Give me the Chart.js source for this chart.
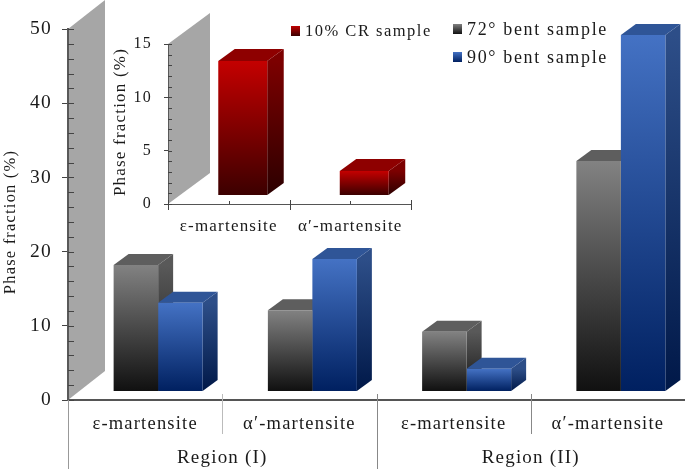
<!DOCTYPE html>
<html>
<head>
<meta charset="utf-8">
<style>
  body { margin: 0; background: #fff; width: 685px; height: 469px; overflow: hidden; position: relative; font-family: "Liberation Serif", serif; color: #1a1a1a; }
  canvas { position: absolute; }
  #mainChart { left: 0; top: 0; }
  #insetChart { left: 100px; top: 0; }
  .key { position: absolute; white-space: nowrap; line-height: 20px; }
  .key i { position: absolute; width: 9px; height: 10px; top: 5px; left: 0; }
  .key span { position: absolute; left: 14px; top: 0; }
</style>
</head>
<body>
<canvas id="mainChart" width="685" height="469"></canvas>
<canvas id="insetChart" width="330" height="240"></canvas>
<div class="key" style="left:291px;top:21px;font-size:16.5px;letter-spacing:1.5px"><i style="background:linear-gradient(#c00000,#3a0000)"></i><span id="keyCr"></span></div>
<div class="key" style="left:453px;top:19px;font-size:18px;letter-spacing:1.65px"><i style="background:linear-gradient(#808080,#111)"></i><span id="key72"></span></div>
<div class="key" style="left:453px;top:47px;font-size:18px;letter-spacing:1.65px"><i style="background:linear-gradient(#4472c4,#002060)"></i><span id="key90"></span></div>
<script src="https://cdn.jsdelivr.net/npm/chart.js@4"></script>
<script>
//Data
const categories = ["ε-martensite", "α′-martensite", "ε-martensite", "α′-martensite"];
const regions = ["Region (I)", "Region (II)"];
const bent72 = [18.2, 12.1, 9.2, 32.2];
const bent90 = [13.1, 19, 4.2, 49.2];
const mainFloor = 1.2;
const mainTicks = [0, 10, 20, 30, 40, 50];

const insetCategories = ["ε-martensite", "α′-martensite"];
const cr10 = [13.4, 3.1];
const insetFloor = 0.85;
const insetTicks = [0, 5, 10, 15];

const yTitle = "Phase fraction (%)";
const label72 = "72° bent sample";
const label90 = "90° bent sample";
const labelCr = "10% CR sample";

document.getElementById("key72").textContent = label72;
document.getElementById("key90").textContent = label90;
document.getElementById("keyCr").textContent = labelCr;

const grey = {front: ["#828282", "#101010"], side: ["#595959", "#151515"], top: "#5e5e5e"};
const blue = {front: ["#4472c4", "#002060"], side: ["#2d4e88", "#001848"], top: "#2f5597"};
const red = {front: ["#c40000", "#3c0000"], side: ["#7c0000", "#2c0000"], top: "#8e0000"};

function barGradient(ctx, t, b, colors) {
    const g = ctx.createLinearGradient(0, t, 0, b);
    g.addColorStop(0, colors[0]);
    g.addColorStop(1, colors[1]);
    return g;
}

function poly(ctx, pts, fill) {
    ctx.beginPath();
    ctx.moveTo(pts[0][0], pts[0][1]);
    for (let i = 1; i < pts.length; i++) ctx.lineTo(pts[i][0], pts[i][1]);
    ctx.closePath();
    ctx.fillStyle = fill;
    ctx.fill();
}

//Fake 3D: back wall, minor ticks, bar sides and tops, all placed from the chart's own scales
const depthPlugin = {
    id: "depth",
    beforeLayout(chart, args, o) {
        chart.ctx.letterSpacing = o.spacing;
    },
    beforeDraw(chart, args, o) {
        const ctx = chart.ctx;
        ctx.letterSpacing = o.spacing;
        const {left, top, bottom} = chart.chartArea;
        poly(ctx, [[left, bottom], [left, top], [left + o.wallX, top + o.wallY], [left + o.wallX, bottom + o.wallY]], "#a6a6a6");
    },
    beforeDatasetsDraw(chart, args, o) {
        const ctx = chart.ctx;
        ctx.save();
        ctx.translate(o.shift, 0);
        chart.data.datasets.forEach((ds, d) => {
            chart.getDatasetMeta(d).data.forEach(bar => {
                const l = bar.x - bar.width / 2;
                const r = bar.x + bar.width / 2;
                const t = bar.y;
                const b = bar.base;
                bar.options = Object.assign({}, bar.options, {backgroundColor: barGradient(ctx, t, b, ds.faces.front)});
                poly(ctx, [[r, t], [r + o.dx, t + o.dy], [r + o.dx, b + o.dy], [r, b]], barGradient(ctx, t, b, ds.faces.side));
                poly(ctx, [[l, t], [l + o.dx, t + o.dy], [r + o.dx, t + o.dy], [r, t]], ds.faces.top);
            });
        });
    },
    afterDatasetsDraw(chart) {
        chart.ctx.restore();
    },
    afterDraw(chart, args, o) {
        const ctx = chart.ctx;
        const y = chart.scales.y;
        const x = chart.scales.x;
        ctx.save();
        ctx.letterSpacing = o.spacing;

        //inward ticks
        ctx.strokeStyle = "#444";
        ctx.lineWidth = 1;
        for (let v = y.min; v <= y.max; v += o.minorStep) {
            const p = Math.round(y.getPixelForValue(v)) + 0.5;
            ctx.beginPath();
            ctx.moveTo(x.left, p);
            ctx.lineTo(x.left + o.minorLen, p);
            ctx.stroke();
        }

        //band dividers under the axis
        const band = x.width / chart.data.labels.length;
        o.dividers.forEach(div => {
            const p = Math.round(x.left + div.at * band) + 0.5;
            ctx.strokeStyle = div.color;
            ctx.beginPath();
            ctx.moveTo(p, y.bottom + div.from);
            ctx.lineTo(p, y.bottom + div.to);
            ctx.stroke();
        });
        (o.centerTicks || []).forEach(at => {
            const p = Math.round(x.left + at * band) + 0.5;
            ctx.strokeStyle = "#444";
            ctx.beginPath();
            ctx.moveTo(p, y.bottom - 3);
            ctx.lineTo(p, y.bottom);
            ctx.stroke();
        });

        //y title
        ctx.fillStyle = "#1a1a1a";
        ctx.font = o.titleFont;
        ctx.textAlign = "center";
        ctx.textBaseline = "middle";
        ctx.save();
        ctx.translate(o.titleX, o.titleY);
        ctx.rotate(-Math.PI / 2);
        ctx.fillText(yTitle, 0, 0);
        ctx.restore();

        //region labels
        ctx.font = o.regionFont || ctx.font;
        (o.regions || []).forEach((r, i) => {
            ctx.fillText(r, x.left + (i * 2 + 1) * band, o.regionY);
        });
        ctx.restore();
    }
};

function baseOptions(ticks, max, yWidth, xHeight, top, right, tickSize, labelSize, catPct, padX, padY, depth, tickLen, axisWidth) {
    return {
        responsive: false,
        animation: false,
        layout: {padding: {top: top, right: right, left: 0, bottom: 0}},
        plugins: {legend: {display: false}, tooltip: {enabled: false}, depth: depth},
        datasets: {bar: {categoryPercentage: catPct, barPercentage: 1, clip: false}},
        scales: {
            x: {
                grid: {display: false, drawTicks: false},
                border: {display: true, color: "#555", width: axisWidth},
                afterFit(scale) { scale.height = xHeight; },
                ticks: {
                    font: {family: "Liberation Serif", size: labelSize},
                    color: "#1a1a1a",
                    padding: padX,
                    maxRotation: 0,
                    autoSkip: false
                }
            },
            y: {
                min: 0,
                max: max,
                afterFit(scale) { scale.width = yWidth; },
                afterBuildTicks(scale) { scale.ticks = ticks.map(v => ({value: v})); },
                grid: {drawOnChartArea: false, tickLength: tickLen, tickColor: "#444"},
                border: {display: true, color: "#595959", width: axisWidth},
                ticks: {
                    font: {family: "Liberation Serif", size: tickSize},
                    color: "#1a1a1a",
                    padding: padY
                }
            }
        }
    };
}

new Chart(document.getElementById("mainChart"), {
    type: "bar",
    plugins: [depthPlugin],
    data: {
        labels: categories,
        datasets: [
            {label: label72, faces: grey, data: bent72.map(v => [mainFloor, v]), backgroundColor: grey.front[0]},
            {label: label90, faces: blue, data: bent90.map(v => [mainFloor, v]), backgroundColor: blue.front[0]}
        ]
    },
    options: baseOptions(mainTicks, 50, 68, 69, 29, 0, 19.5, 18.5, 0.577, 13, 10, {
        spacing: "1.2px", wallX: 37, wallY: -29, shift: 13, dx: 15, dy: -11,
        minorStep: 2, minorLen: 6,
        dividers: [
            {at: 0, from: 0, to: 69, color: "#999"},
            {at: 1, from: -6, to: 34, color: "#bbb"},
            {at: 2, from: -6, to: 69, color: "#888"},
            {at: 3, from: -6, to: 34, color: "#888"}
        ],
        titleFont: "16.5px 'Liberation Serif'", titleX: 11, titleY: 222,
        regions: regions, regionFont: "19px 'Liberation Serif'", regionY: 458
    }, 6, 2)
});

new Chart(document.getElementById("insetChart"), {
    type: "bar",
    plugins: [depthPlugin],
    data: {
        labels: insetCategories,
        datasets: [
            {label: labelCr, faces: red, data: cr10.map(v => [insetFloor, v]), backgroundColor: red.front[0]}
        ]
    },
    options: baseOptions(insetTicks, 15, 68, 36, 44, 19, 16, 17, 0.403, 12, 12, {
        spacing: "1.2px", wallX: 42, wallY: -31, shift: 14, dx: 16.5, dy: -12,
        minorStep: 1, minorLen: 4,
        dividers: [
            {at: 0, from: -4, to: 6, color: "#444"},
            {at: 1, from: -4, to: 6, color: "#444"},
            {at: 2, from: -4, to: 6, color: "#444"}
        ],
        centerTicks: [0.5, 1.5],
        titleFont: "17px 'Liberation Serif'", titleX: 21, titleY: 122
    }, 4, 1)
});
</script>
</body>
</html>
